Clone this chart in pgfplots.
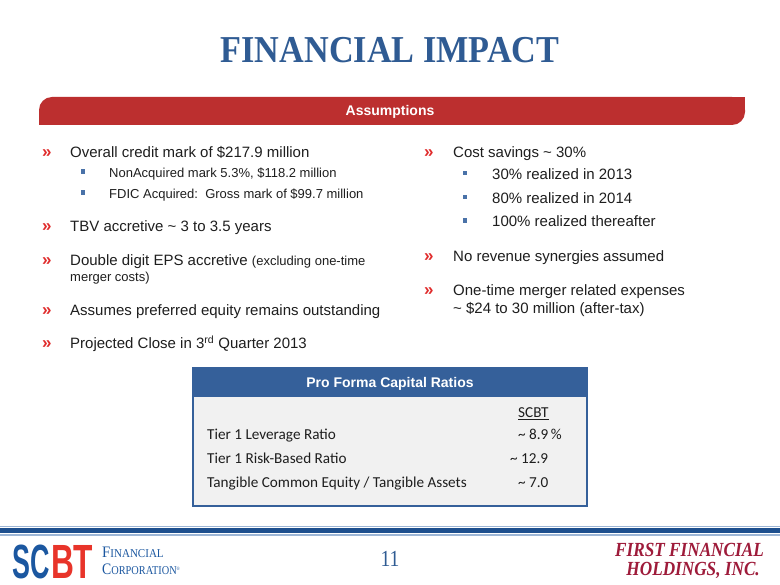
\documentclass[border=0pt]{standalone}
\usepackage{fontspec}
\setmainfont{Liberation Sans}
\newfontfamily\serifface{Liberation Serif}
\newfontfamily\calibface{Carlito}
\usepackage{graphicx}
\usepackage{pgfplots}
\pgfplotsset{compat=1.18}

\definecolor{titleblue}{HTML}{2F5B93}
\definecolor{bannerred}{HTML}{BC2F2F}
\definecolor{chevred}{HTML}{E02B2B}
\definecolor{sqblue}{HTML}{4A72A8}
\definecolor{tblue}{HTML}{35609A}
\definecolor{tgray}{HTML}{F1F1F1}
\definecolor{footblue}{HTML}{1D4F8E}
\definecolor{footlight}{HTML}{9DB6D6}
\definecolor{scbtblue}{HTML}{1B57A0}
\definecolor{scbtred}{HTML}{E8342A}
\definecolor{ffred}{HTML}{9E1B3A}
\definecolor{bodytext}{HTML}{1E1E1E}

\newcommand{\bigf}{\fontsize{15}{18}\selectfont}
\newcommand{\smallf}{\fontsize{13}{16}\selectfont}
\newcommand{\tabf}{\calibface\fontsize{15.2}{18}\selectfont}
\newcommand{\chev}[2]{\node[anchor=base west,inner sep=0pt,text=chevred,font=\fontsize{17}{18}\selectfont\bfseries] at (axis cs:#1,#2) {»};}
\newcommand{\sq}[2]{\fill[sqblue] (axis cs:#1-2.3,#2-2.3) rectangle (axis cs:#1+2.3,#2+2.3);}
\newcommand{\txt}[4]{\node[anchor=base west,inner sep=0pt,text=bodytext,font=#3] at (axis cs:#1,#2) {#4};}

\begin{document}
\begin{tikzpicture}
\begin{axis}[
    width=780pt, height=585pt, scale only axis,
    xmin=0, xmax=780, ymin=0, ymax=585,
    y dir=reverse, hide axis, clip=false,
]
\fill[white] (axis cs:0,0) rectangle (axis cs:780,585);

% title
\node[anchor=base,inner sep=0pt,text=titleblue,xscale=0.9,
      font=\serifface\fontsize{38}{40}\selectfont\bfseries] at (axis cs:390,63) {FINANCIAL IMPACT};

% banner
\fill[bannerred, rounded corners=13pt] (axis cs:39,97) rectangle (axis cs:745,125);
\fill[bannerred] (axis cs:715,97) rectangle (axis cs:745,111);
\fill[bannerred] (axis cs:39,111) rectangle (axis cs:69,125);
\node[anchor=base,inner sep=0pt,text=white,font=\fontsize{14}{16}\selectfont\bfseries] at (axis cs:390,116) {Assumptions};

% left column
\chev{42}{158}
\txt{70}{157.5}{\bigf}{Overall credit mark of \$217.9 million}
\sq{83}{171.5}
\txt{109}{177.7}{\smallf}{NonAcquired mark 5.3\%, \$118.2 million}
\sq{83}{192.5}
\txt{109}{198.7}{\smallf}{FDIC Acquired:\ \ Gross mark of \$99.7 million}
\chev{42}{232}
\txt{70}{231.5}{\bigf}{TBV accretive \textasciitilde{} 3 to 3.5 years}
\chev{42}{266}
\txt{70}{265.5}{\bigf}{Double digit EPS accretive {\smallf(excluding one-time}}
\txt{70}{281.7}{\smallf}{merger costs)}
\chev{42}{316}
\txt{70}{315.5}{\bigf}{Assumes preferred equity remains outstanding}
\chev{42}{349}
\txt{70}{348.5}{\bigf}{Projected Close in 3\textsuperscript{rd} Quarter 2013}

% right column
\chev{424}{158}
\txt{453}{157.5}{\bigf}{Cost savings \textasciitilde{} 30\%}
\sq{465}{173}
\txt{492}{179.5}{\bigf}{30\% realized in 2013}
\sq{465}{197}
\txt{492}{203.5}{\bigf}{80\% realized in 2014}
\sq{465}{220.5}
\txt{492}{226.5}{\bigf}{100\% realized thereafter}
\chev{424}{262}
\txt{453}{261.5}{\bigf}{No revenue synergies assumed}
\chev{424}{296}
\txt{453}{295.5}{\bigf}{One-time merger related expenses}
\txt{453}{313.5}{\bigf}{\textasciitilde{} \$24 to 30 million (after-tax)}

% pro forma table
\fill[tgray] (axis cs:193,368) rectangle (axis cs:587,506);
\fill[tblue] (axis cs:193,368) rectangle (axis cs:587,397);
\draw[tblue, line width=2pt] (axis cs:193,368) rectangle (axis cs:587,506);
\node[anchor=base,inner sep=0pt,text=white,font=\fontsize{14}{16}\selectfont\bfseries] at (axis cs:390,388) {Pro Forma Capital Ratios};
\txt{518}{418}{\tabf}{\underline{SCBT}}
\txt{207}{440}{\tabf}{Tier 1 Leverage Ratio}
\txt{518}{440}{\tabf}{\textasciitilde{} 8.9\,\%}
\txt{207}{464}{\tabf}{Tier 1 Risk-Based Ratio}
\txt{510}{464}{\tabf}{\textasciitilde{} 12.9}
\txt{207}{488}{\tabf}{Tangible Common Equity / Tangible Assets}
\txt{518}{488}{\tabf}{\textasciitilde{} 7.0}

% footer rule
\fill[footlight] (axis cs:0,525.5) rectangle (axis cs:780,527);
\fill[footblue] (axis cs:0,528) rectangle (axis cs:780,533);
\fill[footlight] (axis cs:0,534) rectangle (axis cs:780,535.5);

% page number
\node[anchor=base,inner sep=0pt,text=titleblue,xscale=0.85,
      font=\serifface\fontsize{23}{25}\selectfont] at (axis cs:390,566) {11};

% SCBT logo
\node[anchor=base west,inner sep=0pt,
      font=\fontsize{48}{50}\selectfont\bfseries] at (axis cs:12,578)
  {\textcolor{scbtblue}{\scalebox{0.56}[1]{SC}}\hspace{1.5pt}\textcolor{scbtred}{\scalebox{0.66}[1]{BT}}};
\node[anchor=west,inner sep=0pt,text=scbtblue,align=left,
      font=\serifface\fontsize{12}{17}\selectfont] at (axis cs:102,561)
  {\scalebox{0.92}[1]{{\fontsize{16}{17}\selectfont F}INANCIAL}\\
   \scalebox{0.86}[1]{{\fontsize{16}{17}\selectfont C}ORPORATION\textsuperscript{\fontsize{5}{5}\selectfont ®}}};

% First Financial logo
\node[anchor=east,inner sep=0pt,text=ffred,align=right,
      font=\serifface\fontsize{20}{19}\selectfont\bfseries\itshape] at (axis cs:764,561)
  {\scalebox{0.86}[1]{FIRST FINANCIAL}\\ \scalebox{0.86}[1]{HOLDINGS, INC.}\hspace*{4pt}};

\end{axis}
\end{tikzpicture}
\end{document}
